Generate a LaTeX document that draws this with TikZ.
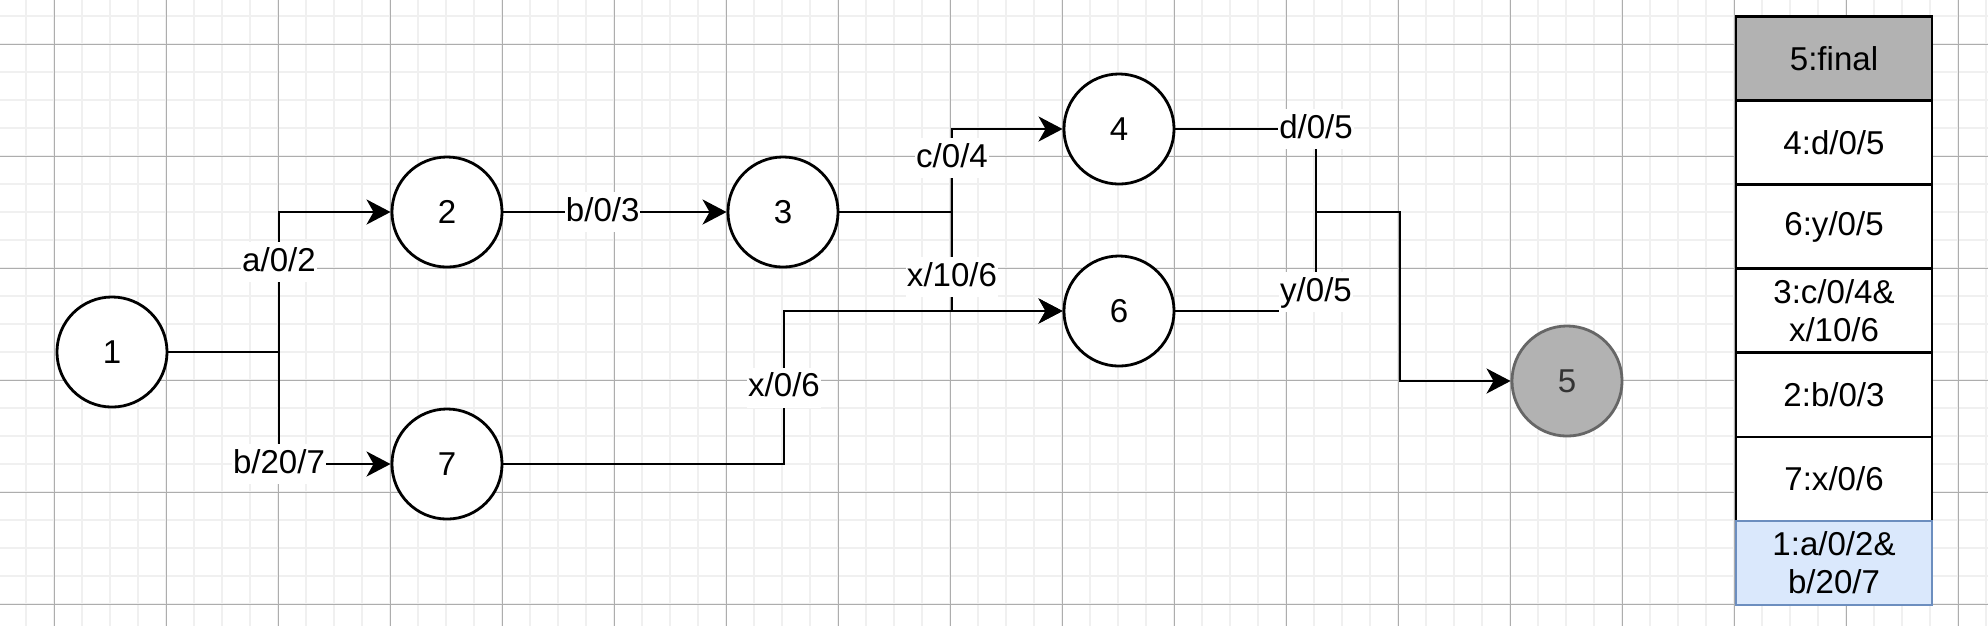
\documentclass[tikz,border=0pt]{standalone}
\usepackage{fontspec}
\setmainfont{Liberation Sans}
\usetikzlibrary{arrows.meta,positioning}
\pgfdeclarelayer{background}
\pgfsetlayers{background,main}
\definecolor{paleblue}{HTML}{DAE8FC}
\definecolor{blueedge}{HTML}{6C8EBF}
\tikzstyle{statenode}=[draw, circle, fill=white, line width=0.028cm,
  minimum size=1.1cm, inner sep=0pt, font=\fontsize{9.4}{11}\selectfont]
\tikzstyle{finalnode} = [statenode, fill=black!30, draw=black!60, text=black!80]
\tikzstyle{cell} = [draw, fill=white, line width=0.028cm, minimum width=1.96cm,
  minimum height=0.84cm, outer sep=0pt, inner sep=0pt, align=center,
  font=\fontsize{9.4}{10.8}\selectfont]
\tikzstyle{edgelabel} = [fill=white, inner xsep=0.01cm, inner ysep=0.05cm,
  text height=0.24cm, text depth=0.06cm, font=\fontsize{9.4}{11}\selectfont]
\tikzstyle{wire} = [draw, line width=0.028cm, color=black]
\tikzstyle{line} = [wire, -{Stealth[length=0.24cm, width=0.25cm, inset=0.07cm]}]
\tikzstyle{minorgrid} = [draw=black!6, line width=0.02cm]
\tikzstyle{majorgrid} = [draw=black!32, line width=0.01cm]
\newcommand{\stnode}[2]{node (#1) [statenode] {#2}}
\newcommand{\tablerow}[3]{node (#1) [#2] {#3}}

\begin{document}
\begin{tikzpicture}[x=0.01cm, y=-0.01cm]

  \useasboundingbox (0,0) rectangle (1988,626);

  % grid of the canvas
  \begin{pgfonlayer}{background}
    \fill [white] (0,0) rectangle (1988,626);
    \foreach \gx in {26,54,...,1986} \path [minorgrid] (\gx,0) -- (\gx,626);
    \foreach \gy in {16,44,...,604} \path [minorgrid] (0,\gy) -- (1988,\gy);
    \foreach \gx in {54,166,...,1958} \path [majorgrid] (\gx,0) -- (\gx,626);
    \foreach \gy in {44,156,...,604} \path [majorgrid] (0,\gy) -- (1988,\gy);
  \end{pgfonlayer}

  % states
  \path (112,352) \stnode{STATE1}{1};
  \path (STATE1)+(335,-140) \stnode{STATE2}{2};
  \path (STATE2)+(336,0) \stnode{STATE3}{3};
  \path (STATE3)+(336,-83) \stnode{STATE4}{4};
  \path (STATE4)+(0,182) \stnode{STATE6}{6};
  \path (STATE2)+(0,252) \stnode{STATE7}{7};
  \path (STATE4)+(448,252) node (STATE5) [finalnode] {5};

  % bends of the connectors
  \coordinate (SPLITA) at (279,352);
  \coordinate (SPLITB) at (952,212);
  \coordinate (BENDC) at (784,464);
  \coordinate (JOIN) at (1316,212);
  \coordinate (DROP) at (1400,212);

  % Draw arrows between states
  \path [wire] (STATE1) -- (SPLITA);
  \path [line] (SPLITA) |- node [edgelabel, pos=0.32] {a/0/2} (STATE2);
  \path [line] (SPLITA) |- node [edgelabel, pos=0.5] {b/20/7} (STATE7);

  \path [line] (STATE2) -- node [edgelabel, pos=0.445] {b/0/3} (STATE3);

  \path [wire] (STATE3) -- (SPLITB);
  \path [line] (SPLITB) |- node [edgelabel, pos=0.325] {c/0/4} (STATE4);
  \path [line] (SPLITB) |- node [edgelabel, pos=0.33] {x/10/6} (STATE6);

  \path [line] (STATE7) -- (BENDC) |- node [edgelabel, pos=0.25] {x/0/6} (STATE6);

  \path [wire] (STATE4) -| node [edgelabel, pos=0.5] {d/0/5} (JOIN);
  \path [wire] (STATE6) -| node [edgelabel, pos=0.5, yshift=0.19cm] {y/0/5} (JOIN);
  \path [line] (JOIN) -- (DROP) |- (STATE5);

  % stack table
  \path (1834,58.7) \tablerow{ROWA}{cell, fill=black!30}{5:final};
  \node (ROWB) [cell, below=0pt of ROWA] {4:d/0/5};
  \node (ROWC) [cell, below=0pt of ROWB] {6:y/0/5};
  \node (ROWD) [cell, below=0pt of ROWC] {3:c/0/4\&\\x/10/6};
  \node (ROWE) [cell, below=0pt of ROWD] {2:b/0/3};
  \node (ROWF) [cell, below=0pt of ROWE] {7:x/0/6};
  \node (ROWG) [cell, below=0pt of ROWF, fill=paleblue, draw=blueedge] {1:a/0/2\&\\b/20/7};

\end{tikzpicture}
\end{document}
